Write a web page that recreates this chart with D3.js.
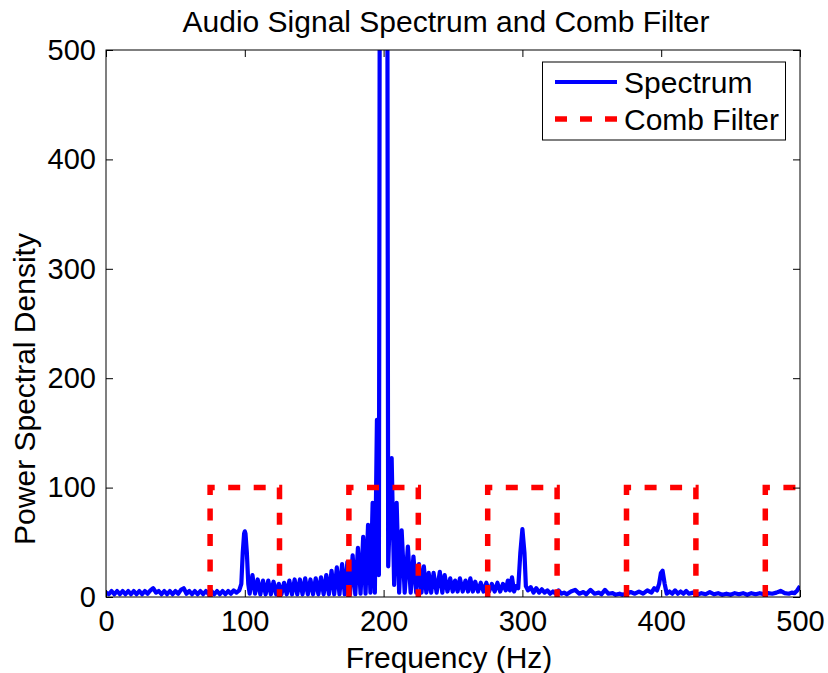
<!DOCTYPE html>
<html>
<head>
<meta charset="utf-8">
<script src="https://cdn.jsdelivr.net/npm/d3@7"></script>
<style>
  html, body { margin: 0; padding: 0; background: #fff; }
  text { font-family: "Liberation Sans", Arial, Helvetica, sans-serif; fill: #000; }
</style>
</head>
<body>
<svg id="chart" width="828" height="673"></svg>
<script>
// ---------------- data ----------------
const titleText = "Audio Signal Spectrum and Comb Filter";
const xLabelText = "Frequency (Hz)";
const yLabelText = "Power Spectral Density";
const xTicks = [0, 100, 200, 300, 400, 500];
const yTicks = [0, 100, 200, 300, 400, 500];
const seriesNames = ["Spectrum", "Comb Filter"];

// spectrum: [frequency (Hz), power spectral density]
const spectrum = [
  [0,4],[2,2.5],[4,5.5],[6,2.5],[8,5.5],[10,2.5],[12,5.5],[14,2.5],[16,5.5],[18,2.5],[20,5.5],[22,2.5],
  [24,5.5],[26,2.5],[28,5.5],[30,3],[32,6],[34,8],[36,4],[38,5.5],[40,2.5],[42,5.5],[44,2.5],[46,5.5],
  [48,2.5],[50,5.5],[52,3],[54,6.5],[56,8],[58,3],[60,5.5],[62,2.5],[64,5.5],[66,2.5],[68,5.5],[70,2.5],
  [72,5.5],[74,2.5],[76,5.5],[78,2.5],[80,5.5],[82,2.5],[84,5.5],[86,2.5],[88,5.5],[90,3],[92,6],[94,4],[96,6],
  [97.5,12],[98.5,40],[99.5,58],[100,60],[100.5,58],[101.5,40],[102.5,12],[103.5,3],
  [105.5,20],[107.4,3],[109.3,16],[111.2,2.5],[113.1,15],[115,2.5],[116.9,15],[118.8,2.5],[120.7,14],
  [122.6,2.5],[124.5,12],[126.4,2.5],[128.3,13],[130.2,2.5],[132.1,15],[134,2.5],[135.9,16],[137.8,2.5],
  [139.7,16],[141.6,2.5],[143.5,17],[145.4,2.5],[147.3,16],[149.2,2.5],[151.1,17],[153,2.5],[154.9,18],
  [156.8,2.5],[158.7,20],[160.6,2.5],[162.5,24],[164.4,2.5],[166.3,27],[168.2,2.5],[170.1,30],[172,2.5],
  [173.9,32],[175.8,2.5],[177.7,38],[179.6,2.5],[181.5,45],[183.4,3],[185.3,55],[187,3],[188.8,66],
  [190.5,4],[192.1,86],[193.7,4],[195.2,162],[196.6,20],
  [200,3000],[203.3,28],
  [205.8,127],[207.6,11],[209.4,86],[211.2,4],[213,61],[215.2,4],[217.5,46],[219.5,4],[221.5,37],[223.5,4],
  [225.5,30],[227.3,4],[229,28],[230.8,4],[232.5,22],[234.3,4],[236,22],[238.2,4],[240.5,23],[242.3,4],
  [244,20],[246,5],[248,17],[249.8,5],[251.5,15],[253.3,5],[255,17],[257,5],[259,15],[260.8,5],[262.5,17],
  [264.3,5],[266,14],[268,5],[270,13],[272,5],[274,13],[276,5],[278,12],[280,5],[282,13],[284,5],[286,12],
  [288,6],[289.5,15],[291,6],[292.5,18],[294,5],[295.5,10],[297,8],
  [298.5,40],[300,62],[301.5,40],[302.5,10],
  [304,6],[306,9],[308,4],[310,8],[312,4],[314,7],[316,4],[318,6],[320,3],[322,5],[324,3],[326,6],[328,3],
  [330,4],[332,2.5],[335,5],[338,6.5],[341,3],[344,4.5],[346,2.5],[349,6.5],[352,3],[355,4],[357,2.5],
  [359.5,6.5],[362,3],[365,3.5],[367,2],[370,3],[372,2],[375,3],[378,4.5],[381,3],[384,5],[387,3],[390,6],
  [393,4],[395,8],[397,6],[398.5,12],[399.8,22],[401,24],[402.5,12],[404,3],[406,5],[408,3],[410,6],[412,3],
  [414,5],[416,3],[418,5.5],[420,3],[423,4],[426,2],[429,3.5],[432,2.5],[435,4.5],[438,2.5],[441,3.5],
  [444,2],[447,3],[450,2],[453,3.5],[456,2.5],[459,3.5],[462,2],[465,3.5],[468,2.5],[471,3.5],[474,2.5],
  [477,3.5],[480,3],[483,4],[486,5.5],[489,3.5],[492,3],[494,4],[496,3.5],[498,6],[500,10]
];

// comb filter passbands (Hz) and gain
const combStart = [75, 175, 275, 375, 475];
const combEnd   = [125, 225, 325, 425, 525];
const combGain  = 100;

// ---------------- drawing ----------------
const W = 828, H = 673;
const plot = { left: 106, right: 800, top: 50, bottom: 597 };
const TICK_FONT = 29;
const LABEL_FONT = 30;

const svg = d3.select("#chart");
svg.append("rect").attr("width", W).attr("height", H).attr("fill", "#fff");

const x = d3.scaleLinear().domain([0, 500]).range([plot.left, plot.right]);
const y = d3.scaleLinear().domain([0, 500]).range([plot.bottom, plot.top]);

svg.append("defs").append("clipPath").attr("id", "clip")
  .append("rect")
  .attr("x", plot.left).attr("y", plot.top)
  .attr("width", plot.right - plot.left).attr("height", plot.bottom - plot.top);

const g = svg.append("g").attr("clip-path", "url(#clip)");

const line = d3.line().x(d => x(d[0])).y(d => y(d[1]));

g.append("path")
  .datum(spectrum)
  .attr("d", line)
  .attr("fill", "none")
  .attr("stroke", "#0000ff")
  .attr("stroke-width", 4.2)
  .attr("stroke-linejoin", "round");

combStart.forEach((s, i) => {
  const e = combEnd[i];
  const pts = [[s, 0], [s, combGain], [e, combGain], [e, 0]];
  g.append("path")
    .datum(pts)
    .attr("d", line)
    .attr("fill", "none")
    .attr("stroke", "#ff0000")
    .attr("stroke-width", 5.5)
    .attr("stroke-dasharray", "12,13.5");
});

// axes
function styleAxis(sel) {
  sel.select(".domain").remove();
  sel.selectAll(".tick line").attr("stroke", "#000").attr("stroke-width", 1);
  sel.selectAll("text").style("font-size", TICK_FONT + "px").attr("fill", "#000")
    .style("font-family", '"Liberation Sans", Arial, sans-serif');
}

svg.append("g").attr("transform", `translate(0,${plot.bottom})`)
  .call(d3.axisBottom(x).tickValues(xTicks).tickSize(-7).tickPadding(13.5).tickFormat(d3.format("d")))
  .call(styleAxis);
svg.append("g").attr("transform", `translate(0,${plot.top})`)
  .call(d3.axisTop(x).tickValues(xTicks).tickSize(-7).tickFormat(""))
  .call(styleAxis);
svg.append("g").attr("transform", `translate(${plot.left},0)`)
  .call(d3.axisLeft(y).tickValues(yTicks).tickSize(-7).tickPadding(10).tickFormat(d3.format("d")))
  .call(styleAxis);
svg.append("g").attr("transform", `translate(${plot.right},0)`)
  .call(d3.axisRight(y).tickValues(yTicks).tickSize(-7).tickFormat(""))
  .call(styleAxis);

svg.append("rect")
  .attr("x", plot.left).attr("y", plot.top)
  .attr("width", plot.right - plot.left).attr("height", plot.bottom - plot.top)
  .attr("fill", "none").attr("stroke", "#000").attr("stroke-width", 1);

// titles
svg.append("text").attr("x", 446).attr("y", 32).attr("text-anchor", "middle")
  .style("font-size", LABEL_FONT + "px").text(titleText);
svg.append("text").attr("x", 449).attr("y", 668).attr("text-anchor", "middle")
  .style("font-size", LABEL_FONT + "px").text(xLabelText);
svg.append("text").attr("transform", "translate(35,389) rotate(-90)").attr("text-anchor", "middle")
  .style("font-size", LABEL_FONT + "px").text(yLabelText);

// legend
const lg = svg.append("g");
lg.append("rect").attr("x", 542.5).attr("y", 62).attr("width", 243).attr("height", 78)
  .attr("fill", "#fff").attr("stroke", "#000").attr("stroke-width", 1);
const legendRows = [
  { name: seriesNames[0], color: "#0000ff", width: 4, dash: null, y: 82 },
  { name: seriesNames[1], color: "#ff0000", width: 5.5, dash: "12,13", y: 119 }
];
legendRows.forEach(r => {
  const l = lg.append("line").attr("x1", 555).attr("x2", 617).attr("y1", r.y).attr("y2", r.y)
    .attr("stroke", r.color).attr("stroke-width", r.width);
  if (r.dash) l.attr("stroke-dasharray", r.dash);
  lg.append("text").attr("x", 624).attr("y", r.y + 10.5).style("font-size", LABEL_FONT + "px").text(r.name);
});
</script>
</body>
</html>
